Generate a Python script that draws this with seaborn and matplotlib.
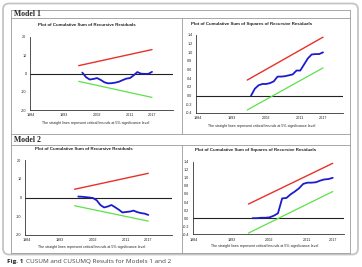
import matplotlib.pyplot as plt
from matplotlib.patches import FancyBboxPatch
import pandas as pd
import seaborn as sns

# recursive residual years and the two end points of the 5% bounds
years = list(range(1998, 2018))
bound_years = [1997, 2017]

m1_cusum = [0.5, -2.0, -3.3, -3.0, -2.5, -3.5, -4.8, -5.4, -5.3, -5.0,
            -4.5, -3.6, -2.8, -2.5, -1.0, 0.8, -0.1, -0.2, -0.2, 0.9]
m1_cusumsq = [0.00, 0.16, 0.24, 0.27, 0.27, 0.29, 0.33, 0.44, 0.44, 0.45,
              0.47, 0.49, 0.58, 0.58, 0.72, 0.86, 0.95, 0.96, 0.96, 1.00]
m2_cusum = [0.5, 0.4, 0.2, 0.0, -0.3, -1.5, -4.0, -5.3, -4.8, -4.0,
            -5.2, -6.5, -8.0, -7.7, -7.5, -7.0, -7.8, -8.3, -8.6, -9.3]
m2_cusumsq = [0.00, 0.00, 0.01, 0.01, 0.02, 0.06, 0.12, 0.49, 0.50, 0.59,
              0.66, 0.74, 0.85, 0.88, 0.88, 0.89, 0.93, 0.96, 0.97, 1.00]

m1_cusum_upper = [4.3, 13.1]
m1_cusum_lower = [-4.3, -13.1]
m2_cusum_upper = [4.4, 12.9]
m2_cusum_lower = [-4.4, -12.6]
m1_sq_upper = [0.36, 1.35]
m1_sq_lower = [-0.33, 0.64]
m2_sq_upper = [0.35, 1.36]
m2_sq_lower = [-0.37, 0.66]

x_ticks = [1984, 1993, 2002, 2011, 2017]
cusum_ticks = [20, 10, 0, -10, -20]
sq_ticks = [1.4, 1.2, 1.0, 0.8, 0.6, 0.4, 0.2, 0.0, -0.2, -0.4]

title_cusum = 'Plot of Cumulative Sum of Recursive Residuals'
title_sq = 'Plot of Cumulative Sum of Squares of Recursive Residuals'
note = 'The straight lines represent critical bounds at 5% significance level'

W, H = 362, 267

sns.set_style('white')
plt.rcParams['font.family'] = ['Liberation Sans', 'DejaVu Sans']

fig = plt.figure(figsize=(W / 100, H / 100), dpi=100)
bg = fig.add_axes([0, 0, 1, 1])
bg.set_xlim(0, W)
bg.set_ylim(H, 0)
bg.axis('off')

# frame, table lines and headers
bg.add_patch(FancyBboxPatch((3, 3.5), 355, 251, boxstyle='round,pad=0,rounding_size=6',
                            fc='white', ec='#c4c4c4', lw=1.3))
for y in [9.5, 18, 133.5, 145, 253]:
    bg.plot([11, 350], [y, y], color='#9a9a9a', lw=0.6)
for x in [11, 350]:
    bg.plot([x, x], [9.5, 253], color='#9a9a9a', lw=0.6)
bg.plot([181.5, 181.5], [18, 133.5], color='#9a9a9a', lw=0.6)
bg.plot([181.5, 181.5], [145, 253], color='#9a9a9a', lw=0.6)
bg.text(14, 14, 'Model 1', family='Liberation Serif', weight='bold', fontsize=5.6, va='center')
bg.text(14, 139.5, 'Model 2', family='Liberation Serif', weight='bold', fontsize=5.6, va='center')
bg.text(7, 262, 'Fig. 1', family='Open Sans', weight='bold', fontsize=4.6, va='center', color='#222')
bg.text(26.5, 262, 'CUSUM and CUSUMQ Results for Models 1 and 2', family='Open Sans',
        fontsize=4.6, va='center', color='#444')


def panel(box, px_1984, px_2017, ylim, ticks, fmt, series, upper, lower, title, tpos, npos):
    x0, x1, y0, y1 = box
    ax = fig.add_axes([x0 / W, 1 - y1 / H, (x1 - x0) / W, (y1 - y0) / H])
    scale = (px_2017 - px_1984) / 33
    ax.set_xlim(1984 - (px_1984 - x0) / scale, 1984 + (x1 - px_1984) / scale)
    ax.set_ylim(*ylim)
    ax.axhline(0, color='#222', lw=0.8, zorder=1)
    sns.lineplot(x=bound_years, y=upper, color='#e8302a', lw=1.0, ax=ax)
    sns.lineplot(x=bound_years, y=lower, color='#5fe04a', lw=0.9, ax=ax)
    sns.lineplot(x=years, y=series, color='#1c1ccc', lw=1.3, ax=ax)
    ax.set_xticks(x_ticks)
    ax.set_xticklabels([str(t) for t in x_ticks])
    ax.set_yticks(ticks)
    ax.set_yticklabels([fmt.format(t) for t in ticks])
    sns.despine(ax=ax)
    for s in ['left', 'bottom']:
        ax.spines[s].set_color('#333')
        ax.spines[s].set_linewidth(0.6)
    ax.tick_params(direction='inout', length=2, width=0.5, labelsize=2.7, pad=1.5, colors='#222')
    ax.patch.set_alpha(0)
    bg.text(tpos[0], tpos[1], title, fontsize=3.2, weight='bold', ha='center', va='center', color='#222')
    bg.text(npos[0], npos[1], note, fontsize=2.6, ha='center', va='center', color='#222')
    return ax


panel((30, 173, 37, 110), 31, 152, (-20, 20), cusum_ticks, '{:d}', m1_cusum,
      m1_cusum_upper, m1_cusum_lower, title_cusum, (87, 25), (96, 123))
panel((196, 343, 35, 113), 198, 323, (-0.4, 1.4), sq_ticks, '{:.1f}', m1_cusumsq,
      m1_sq_upper, m1_sq_lower, title_sq, (252, 23.5), (262, 126))
panel((25, 172, 160, 235), 26.7, 148.3, (-20, 20), cusum_ticks, '{:d}', m2_cusum,
      m2_cusum_upper, m2_cusum_lower, title_cusum, (84, 149.5), (92, 247))
panel((192.7, 344, 161.7, 234.3), 193.7, 332.7, (-0.4, 1.4), sq_ticks, '{:.1f}', m2_cusumsq,
      m2_sq_upper, m2_sq_lower, title_sq, (256, 149.5), (265, 246))

fig.savefig('out.png', dpi=100)
